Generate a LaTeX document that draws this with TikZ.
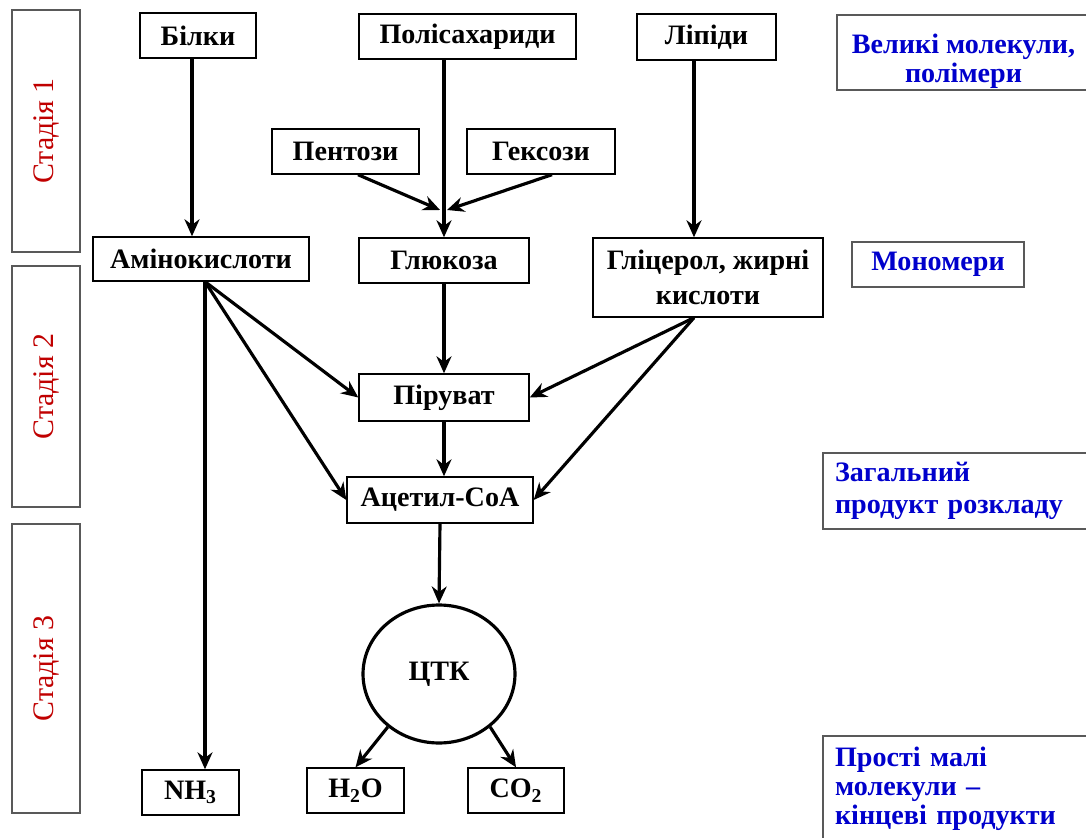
\documentclass[tikz,border=0pt]{standalone}
\usepackage{fontspec}
\setmainfont{Liberation Serif}
\usetikzlibrary{arrows.meta,shapes.geometric}
\definecolor{stagered}{RGB}{192,0,0}
\definecolor{noteblue}{RGB}{0,0,204}

\begin{document}
\begin{tikzpicture}[x=0.02cm,y=-0.02cm,
  box/.style={draw,line width=0.8pt,inner sep=0pt,align=center,font=\bfseries\fontsize{16}{19}\selectfont},
  stage/.style={draw=black!65,line width=1pt,rotate=90,inner sep=0pt,text=stagered,font=\fontsize{17}{20}\selectfont},
  note/.style={draw=black!65,line width=1pt,inner sep=0pt,text=noteblue,font=\bfseries\fontsize{16}{18}\selectfont},
  arr/.style={-{Stealth[length=3.4mm,width=3mm]},line width=1.8pt}]
\useasboundingbox (0,0) rectangle (1086,838);

\node[stage,minimum width=4.84cm,minimum height=1.36cm] (st1) at (46,131) {Стадія 1};
\node[stage,minimum width=4.82cm,minimum height=1.36cm] (st2) at (46,386.5) {Стадія 2};
\node[stage,minimum width=5.78cm,minimum height=1.36cm] (st3) at (46,668.5) {Стадія 3};

\node[box,minimum width=2.32cm,minimum height=0.9cm] (bilky) at (198,35.5) {Білки};
\node[box,minimum width=4.34cm,minimum height=0.9cm] (polis) at (467.5,36.5) {Полісахариди};
\node[box,minimum width=2.78cm,minimum height=0.92cm] (lipidy) at (706.5,37) {Ліпіди};
\node[box,minimum width=2.94cm,minimum height=0.9cm] (pent) at (345.5,151.5) {Пентози};
\node[box,minimum width=2.96cm,minimum height=0.9cm] (heks) at (541,151.5) {Гексози};
\node[box,minimum width=4.32cm,minimum height=0.88cm] (amino) at (201,259) {Амінокислоти};
\node[box,minimum width=3.4cm,minimum height=0.9cm] (gluk) at (444,260.5) {Глюкоза};
\node[box,minimum width=4.6cm,minimum height=1.58cm] (glic) at (708,277.5) {Гліцерол, жирні\\[1pt]кислоти};
\node[box,minimum width=3.4cm,minimum height=0.94cm] (piruv) at (444,397.5) {Піруват};
\node[box,minimum width=3.72cm,minimum height=0.92cm] (acetyl) at (440,500) {Ацетил-CoA};
\node[box,ellipse,line width=1.8pt,minimum width=3.04cm,minimum height=2.76cm] (tsk) at (439,674) {ЦТК};
\node[box,minimum width=1.94cm,minimum height=0.9cm] (nh) at (190.5,792.5) {NH\textsubscript{3}};
\node[box,minimum width=1.94cm,minimum height=0.9cm] (water) at (355.5,790.5) {H\textsubscript{2}O};
\node[box,minimum width=1.92cm,minimum height=0.9cm] (co) at (516,790.5) {CO\textsubscript{2}};

\node[note,align=center,minimum width=5.06cm,minimum height=1.5cm] (velyki) at (963.5,52.5) {\rule{0pt}{21pt}Великі молекули,\\[-1pt]полімери};
\node[note,minimum width=3.44cm,minimum height=0.9cm] (mono) at (938,264.5) {Мономери};
\node[note,align=left,text width=4.86cm,minimum width=5.34cm,minimum height=1.52cm] (zagal) at (956.5,491) {Загальний\\продукт розкладу};
\node[note,align=left,text width=4.86cm,minimum width=5.34cm,minimum height=2.12cm,font=\bfseries\fontsize{16}{16.5}\selectfont] (prosti) at (956.5,789) {Прості малі\\молекули –\\кінцеві продукти};

\coordinate (join) at (443,210);
\draw[arr] ([xshift=-0.12cm]bilky.south) -- ([xshift=-0.12cm]bilky.south |- amino.north);
\draw[arr] (polis.south -| gluk.north) -- (gluk.north);
\draw[arr] ([xshift=0.25cm]pent.south) -- ([xshift=-0.06cm]join);
\draw[arr] ([xshift=0.22cm]heks.south) -- ([xshift=0.08cm]join);
\draw[arr] ([xshift=-0.25cm]lipidy.south) -- ([xshift=-0.25cm]lipidy.south |- glic.north);
\draw[arr] ([xshift=0.08cm]amino.south) -- ([xshift=0.08cm]amino.south |- nh.north);
\draw[arr] ([xshift=0.08cm]amino.south) -- (piruv.west);
\draw[arr] ([xshift=0.08cm]amino.south) -- (acetyl.west);
\draw[arr] (gluk.south) -- (piruv.north);
\draw[arr] ([xshift=-0.28cm]glic.south) -- (piruv.east);
\draw[arr] ([xshift=-0.28cm]glic.south) -- (acetyl.east);
\draw[arr] (piruv.south) -- (piruv.south |- acetyl.north);
\draw[arr] (acetyl.south) -- (tsk.north);
\draw[arr] (tsk.-134) -- (water.north);
\draw[arr] (tsk.-46) -- (co.north);
\end{tikzpicture}
\end{document}
